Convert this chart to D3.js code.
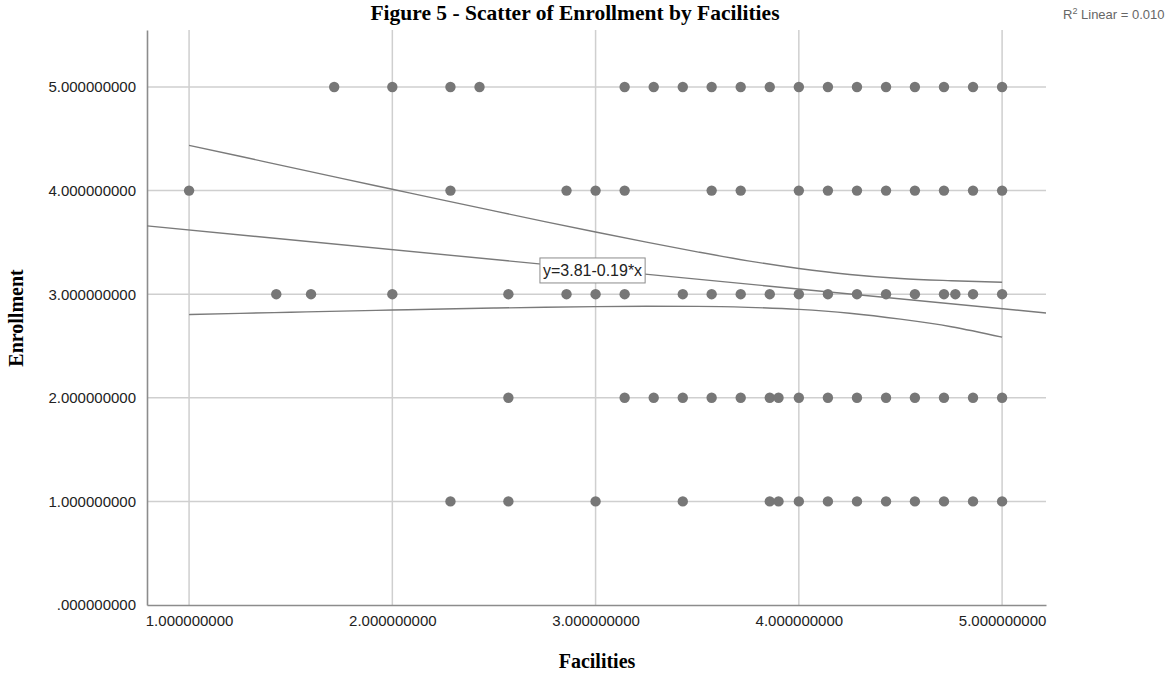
<!DOCTYPE html>
<html>
<head>
<meta charset="utf-8">
<script src="https://cdn.jsdelivr.net/npm/d3@7"></script>
<style>
  html, body { margin: 0; padding: 0; background: #ffffff; }
  svg { display: block; }
</style>
</head>
<body>
<svg id="chart" width="1170" height="673"></svg>
<script>
// Facilities scores observed at each Enrollment level
const enrollmentLevels = [5, 4, 3, 2, 1];
const facilitiesAt5 = [1.714, 2.0, 2.286, 2.429, 3.143, 3.286, 3.429, 3.571, 3.714, 3.857, 4.0, 4.143, 4.286, 4.429, 4.571, 4.714, 4.857, 5.0];
const facilitiesAt4 = [1.0, 2.286, 2.857, 3.0, 3.143, 3.571, 3.714, 4.0, 4.143, 4.286, 4.429, 4.571, 4.714, 4.857, 5.0];
const facilitiesAt3 = [1.429, 1.6, 2.0, 2.571, 2.857, 3.0, 3.143, 3.429, 3.571, 3.714, 3.857, 4.0, 4.143, 4.286, 4.429, 4.571, 4.714, 4.77, 4.857, 5.0];
const facilitiesAt2 = [2.571, 3.143, 3.286, 3.429, 3.571, 3.714, 3.857, 3.9, 4.0, 4.143, 4.286, 4.429, 4.571, 4.714, 4.857, 5.0];
const facilitiesAt1 = [2.286, 2.571, 3.0, 3.429, 3.857, 3.9, 4.0, 4.143, 4.286, 4.429, 4.571, 4.714, 4.857, 5.0];
const facilitiesByLevel = [facilitiesAt5, facilitiesAt4, facilitiesAt3, facilitiesAt2, facilitiesAt1];

// Linear fit y = 3.81 - 0.19*x, R² = 0.010
const fitIntercept = 3.81;
const fitSlope = -0.19;
const rSquared = "0.010";

// 95% confidence band of the mean prediction
const ciX     = [1.0,   1.25,  1.5,   1.75,  2.0,   2.25,  2.5,   2.75,  3.0,  3.25,  3.5,   3.75,  4.0,   4.25,  4.5,   4.75,  5.0];
const ciUpper = [4.437, 4.331, 4.224, 4.118, 4.013, 3.908, 3.804, 3.701, 3.60, 3.502, 3.409, 3.322, 3.248, 3.190, 3.151, 3.130, 3.115];
const ciLower = [2.803, 2.815, 2.826, 2.837, 2.847, 2.857, 2.866, 2.874, 2.88, 2.883, 2.882, 2.873, 2.853, 2.816, 2.759, 2.686, 2.585];

// Axis ticks and labels
const xTicks = [1, 2, 3, 4, 5];
const xTickLabels = ["1.000000000", "2.000000000", "3.000000000", "4.000000000", "5.000000000"];
const yTicks = [0, 1, 2, 3, 4, 5];
const yTickLabels = [".000000000", "1.000000000", "2.000000000", "3.000000000", "4.000000000", "5.000000000"];

const titleText = "Figure 5 - Scatter of Enrollment by Facilities";
const xTitle = "Facilities";
const yTitle = "Enrollment";

const svg = d3.select("#chart");
const plot = { left: 147, right: 1046, top: 30, bottom: 605 };

const x = d3.scaleLinear().domain([0.793, 5.216]).range([plot.left, plot.right]);
const y = d3.scaleLinear().domain([0, 5.55]).range([plot.bottom, plot.top]);

const serif = "'Liberation Serif', 'Times New Roman', serif";
const sans = "'Liberation Sans', Arial, sans-serif";

// Grid lines
const grid = svg.append("g");
grid.selectAll("line.vx").data(xTicks).join("line")
  .attr("x1", d => x(d)).attr("x2", d => x(d))
  .attr("y1", plot.top).attr("y2", plot.bottom)
  .attr("stroke", "#cfcfcf").attr("stroke-width", 1.5);
grid.selectAll("line.hy").data(yTicks.filter(d => d > 0)).join("line")
  .attr("x1", plot.left).attr("x2", plot.right)
  .attr("y1", d => y(d)).attr("y2", d => y(d))
  .attr("stroke", "#cfcfcf").attr("stroke-width", 1.5);

// Axes (no tick marks, just the domain lines and labels)
const xAxis = d3.axisBottom(x).tickValues(xTicks)
  .tickFormat((d, i) => xTickLabels[i]).tickSize(0).tickPadding(10);
const yAxis = d3.axisLeft(y).tickValues(yTicks)
  .tickFormat((d, i) => yTickLabels[i]).tickSize(0).tickPadding(10);

const gx = svg.append("g").attr("transform", `translate(0,${plot.bottom})`).call(xAxis);
const gy = svg.append("g").attr("transform", `translate(${plot.left},0)`).call(yAxis);
[gx, gy].forEach(g => {
  g.select(".domain").attr("stroke", "#8c8c8c").attr("stroke-width", 1.6);
  g.selectAll("text").attr("font-family", sans).attr("font-size", 15).attr("fill", "#222");
});
gy.selectAll("text").attr("dx", "-1");

// Confidence band curves
const curve = d3.line().x(d => x(d[0])).y(d => y(d[1])).curve(d3.curveMonotoneX);
const lines = svg.append("g").attr("fill", "none").attr("stroke", "#7a7a7a").attr("stroke-width", 1.4);
lines.append("path").attr("d", curve(ciX.map((v, i) => [v, ciUpper[i]])));
lines.append("path").attr("d", curve(ciX.map((v, i) => [v, ciLower[i]])));

// Fit line across the full x range
const [x0, x1] = x.domain();
lines.append("path").attr("d", d3.line().x(d => x(d)).y(d => y(fitIntercept + fitSlope * d))([x0, x1]));

// Points
const points = facilitiesByLevel.flatMap((arr, i) => arr.map(f => ({ f, e: enrollmentLevels[i] })));
svg.append("g").selectAll("circle").data(points).join("circle")
  .attr("cx", d => x(d.f)).attr("cy", d => y(d.e)).attr("r", 5.2)
  .attr("fill", "#777777");

// Equation label
const eq = svg.append("g").attr("transform", `translate(${x(2.741)},${y(3.176)})`);
const eqText = eq.append("text").attr("x", 0).attr("y", 0)
  .attr("font-family", sans).attr("font-size", 16).attr("fill", "#222")
  .text(`y=${fitIntercept.toFixed(2)}-${Math.abs(fitSlope).toFixed(2)}*x`);
const bb = eqText.node().getBBox();
eq.insert("rect", "text")
  .attr("x", bb.x - 3).attr("y", bb.y - 4)
  .attr("width", bb.width + 6).attr("height", bb.height + 8)
  .attr("fill", "#ffffff").attr("stroke", "#8c8c8c").attr("stroke-width", 1);

// Titles
svg.append("text").attr("x", 575).attr("y", 20).attr("text-anchor", "middle")
  .attr("font-family", serif).attr("font-weight", "bold").attr("font-size", 21.5)
  .attr("fill", "#000").text(titleText);
svg.append("text").attr("x", 597).attr("y", 668).attr("text-anchor", "middle")
  .attr("font-family", serif).attr("font-weight", "bold").attr("font-size", 20)
  .attr("fill", "#000").text(xTitle);
svg.append("text").attr("transform", "translate(23,318) rotate(-90)").attr("text-anchor", "middle")
  .attr("font-family", serif).attr("font-weight", "bold").attr("font-size", 20)
  .attr("fill", "#000").text(yTitle);

// R² annotation
const r2 = svg.append("text").attr("x", 1063).attr("y", 19)
  .attr("font-family", sans).attr("font-size", 13).attr("fill", "#666");
r2.append("tspan").text("R");
r2.append("tspan").attr("font-size", 9).attr("dy", -5).text("2");
r2.append("tspan").attr("dy", 5).text(` Linear = ${rSquared}`);
</script>
</body>
</html>
